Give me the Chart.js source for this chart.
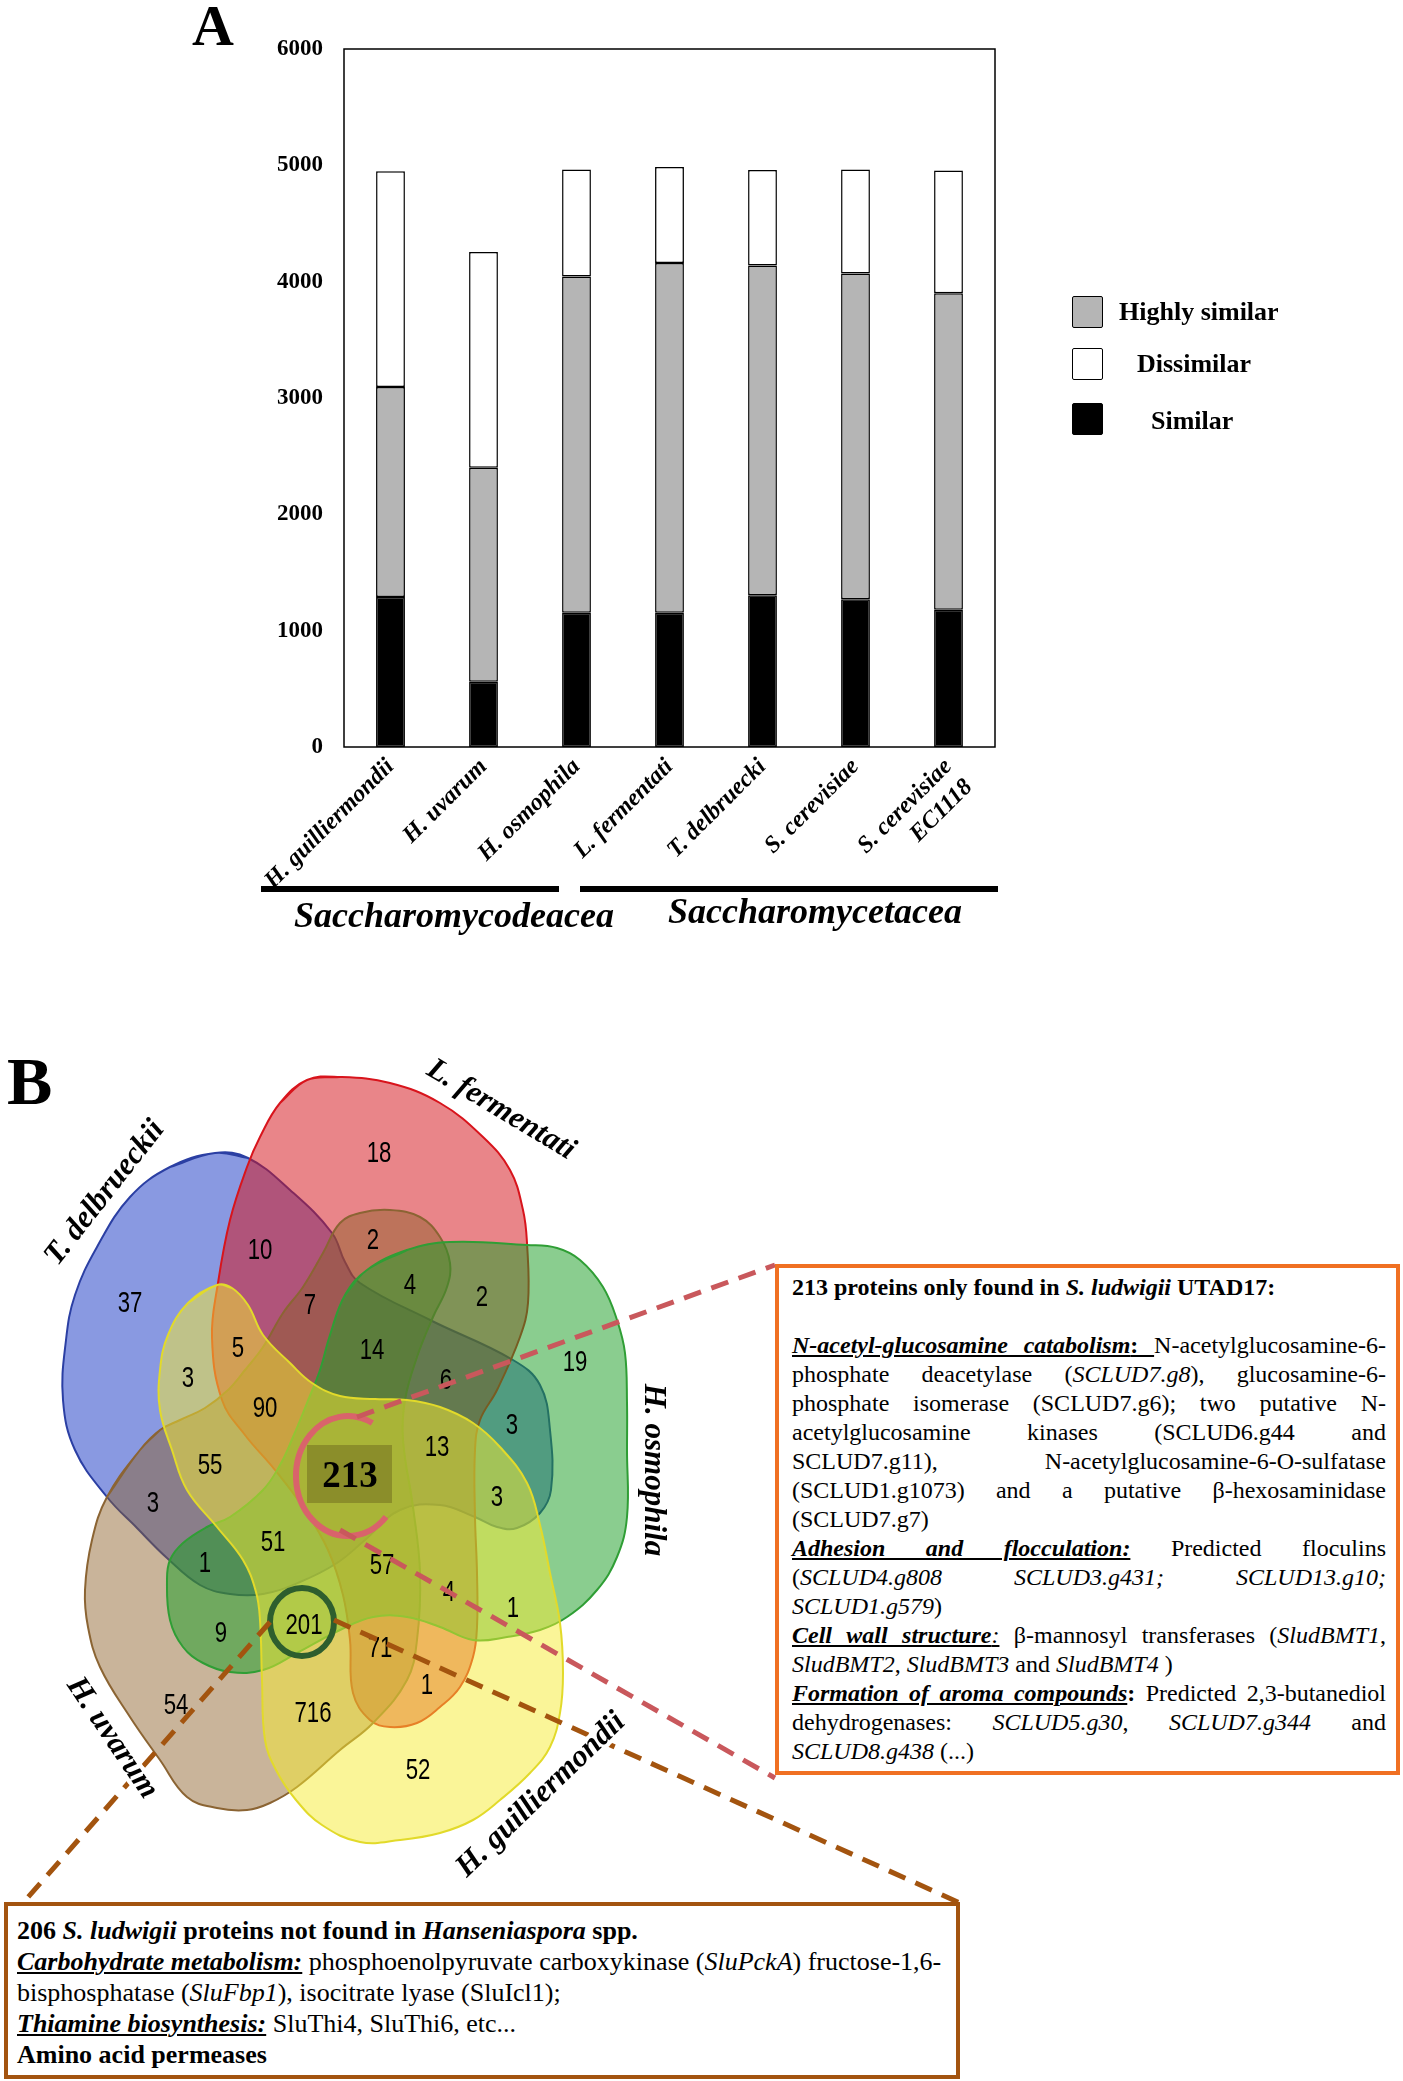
<!DOCTYPE html>
<html>
<head>
<meta charset="utf-8">
<script src="https://cdn.jsdelivr.net/npm/chart.js@4.4.1/dist/chart.umd.min.js"></script>
<style>
  html, body { margin: 0; padding: 0; background: #fff; }
  body { width: 1403px; height: 2081px; position: relative; overflow: hidden;
         font-family: "Liberation Serif", "Times New Roman", serif; color: #000; }
  .abs { position: absolute; }
  .panel { position: absolute; font-weight: bold; line-height: 1; }
  .legbox { position: absolute; left: 1072px; width: 29px; height: 30px; border: 1.5px solid #000; border-radius: 2px; }
  .legtxt { position: absolute; font-weight: bold; font-size: 26px; line-height: 30px; white-space: nowrap; }
  #boxR { left: 775px; top: 1264px; width: 625px; height: 511px; border: 4px solid #f07022; box-sizing: border-box; background: #fff; }
  #txtR { left: 792px; top: 1273px; width: 594px; font-size: 24px; }
  #boxB { left: 4px; top: 1902px; width: 956px; height: 177px; border: 4px solid #a3540f; box-sizing: border-box; background: #fff; }
  #txtB { left: 17px; top: 1915px; width: 935px; font-size: 26px; }
  .ln { height: 29px; line-height: 29px; }
  #txtB .ln { height: 31px; line-height: 31px; white-space: nowrap; }
  .j { text-align: justify; text-align-last: justify; }
  u { text-decoration-thickness: 2px; text-underline-offset: 2px; }
</style>
</head>
<body>

<div class="panel" style="left:192px; top:-3px; font-size:58px;">A</div>
<div class="abs" style="left:0; top:0; width:1403px; height:960px;">
  <canvas id="barChart" width="1403" height="960"></canvas>
</div>

<div class="legbox" style="top:296px; background:#b5b5b5;"></div>
<div class="legbox" style="top:348px; background:#fff;"></div>
<div class="legbox" style="top:403px; background:#000;"></div>
<div class="legtxt" style="left:1119px; top:297px;">Highly similar</div>
<div class="legtxt" style="left:1137px; top:349px;">Dissimilar</div>
<div class="legtxt" style="left:1151px; top:406px;">Similar</div>

<div class="panel" style="left:7px; top:1047px; font-size:68px;">B</div>
<div class="abs" style="left:0; top:1040px; width:980px; height:870px;">
  <canvas id="vennChart" width="980" height="870"></canvas>
</div>

<div id="boxR" class="abs"></div>
<div id="txtR" class="abs">
  <div class="ln"><b>213 proteins only found in <i>S. ludwigii</i> UTAD17:</b></div>
  <div class="ln">&nbsp;</div>
  <div class="ln j"><u><b><i>N-acetyl-glucosamine catabolism</i>: </b></u>N-acetylglucosamine-6-</div>
  <div class="ln j">phosphate deacetylase (<i>SCLUD7.g8</i>), glucosamine-6-</div>
  <div class="ln j">phosphate isomerase (SCLUD7.g6); two putative N-</div>
  <div class="ln j">acetylglucosamine kinases (SCLUD6.g44 and</div>
  <div class="ln j">SCLUD7.g11), N-acetylglucosamine-6-O-sulfatase</div>
  <div class="ln j">(SCLUD1.g1073) and a putative β-hexosaminidase</div>
  <div class="ln">(SCLUD7.g7)</div>
  <div class="ln j"><u><b><i>Adhesion and flocculation:</i></b></u> Predicted floculins</div>
  <div class="ln j">(<i>SCLUD4.g808 SCLUD3.g431; SCLUD13.g10;</i></div>
  <div class="ln"><i>SCLUD1.g579</i>)</div>
  <div class="ln j"><u><b><i>Cell wall structure</i></b><i>:</i></u> β-mannosyl transferases (<i>SludBMT1</i>,</div>
  <div class="ln"><i>SludBMT2</i>, <i>SludBMT3</i> and <i>SludBMT4</i> )</div>
  <div class="ln j"><u><b><i>Formation of aroma compounds</i></b></u><b>:</b> Predicted 2,3-butanediol</div>
  <div class="ln j">dehydrogenases: <i>SCLUD5.g30</i>, <i>SCLUD7.g344</i> and</div>
  <div class="ln"><i>SCLUD8.g438</i> (...)</div>
</div>

<div id="boxB" class="abs"></div>
<div id="txtB" class="abs">
  <div class="ln"><b>206 <i>S. ludwigii</i> proteins not found in <i>Hanseniaspora</i> spp.</b></div>
  <div class="ln"><u><b><i>Carbohydrate metabolism:</i></b></u> phosphoenolpyruvate carboxykinase (<i>SluPckA</i>) fructose-1,6-</div>
  <div class="ln">bisphosphatase (<i>SluFbp1</i>), isocitrate lyase (SluIcl1);</div>
  <div class="ln"><u><b><i>Thiamine biosynthesis:</i></b></u> SluThi4, SluThi6, etc...</div>
  <div class="ln"><b>Amino acid permeases</b></div>
</div>

<script>
// ---- panel A data ----
const species = ["H. guilliermondii", "H. uvarum", "H. osmophila", "L. fermentati",
                 "T. delbruecki", "S. cerevisiae", ["S. cerevisiae", "EC1118"]];
const similar = [1290, 560, 1155, 1155, 1305, 1270, 1180];
const highlySimilar = [1805, 1840, 2890, 3005, 2835, 2800, 2720];
const dissimilar = [1855, 1855, 920, 825, 820, 895, 1055];
const yTicks = [0, 1000, 2000, 3000, 4000, 5000, 6000];
const families = ["Saccharomycodeacea", "Saccharomycetacea"];

// ---- panel B data ----
const setNames = ["T. delbrueckii", "L. fermentati", "H. osmophila", "H. guilliermondii", "H. uvarum"];
const tdelOutline = [[215,1153],[248,1158],[290,1190],[332,1233],[345,1262],[360,1283],[430,1320],[513,1360],
  [540,1385],[550,1430],[551,1490],[540,1513],[517,1528],[497,1527],[475,1517],[440,1505],[400,1510],
  [365,1540],[337,1563],[300,1582],[263,1594],[230,1594],[200,1585],[167,1558],[137,1528],[107,1497],
  [75,1450],[63,1400],[66,1340],[75,1295],[97,1247],[130,1197],[170,1167]];
const lferOutline = [[307,1080],[340,1077],[390,1083],[440,1103],[483,1137],[510,1170],[523,1210],[527,1243],
  [528,1303],[520,1337],[497,1390],[480,1420],[475,1450],[475,1517],[477,1573],[477,1627],[473,1657],
  [460,1687],[440,1707],[417,1723],[390,1727],[370,1720],[353,1693],[350,1640],[343,1595],[328,1550],
  [305,1510],[275,1470],[245,1435],[222,1400],[212,1337],[218,1283],[230,1220],[247,1167],[260,1137],[280,1103]];
const hosmOutline = [[367,1270],[407,1250],[450,1242],[527,1245],[557,1248],[580,1260],[603,1287],[617,1320],
  [625,1353],[627,1403],[627,1450],[627,1517],[617,1557],[597,1590],[567,1617],[540,1630],[507,1637],
  [473,1640],[440,1627],[407,1617],[373,1617],[340,1630],[297,1653],[263,1670],[230,1672],[203,1663],
  [183,1647],[170,1620],[167,1580],[170,1560],[183,1543],[207,1527],[230,1517],[263,1490],[280,1465],
  [293,1437],[307,1403],[320,1370],[330,1335],[345,1295]];
const hguiOutline = [[217,1285],[232,1288],[248,1305],[263,1335],[290,1363],[312,1383],[340,1396],[375,1399],
  [407,1400],[440,1407],[473,1423],[500,1447],[527,1483],[540,1525],[550,1573],[560,1623],[563,1673],
  [560,1713],[550,1747],[530,1773],[500,1800],[473,1820],[440,1833],[400,1840],[360,1842],[322,1825],
  [296,1800],[276,1770],[265,1740],[262,1680],[260,1620],[256,1592],[243,1560],[217,1527],[187,1490],
  [172,1450],[160,1410],[160,1370],[168,1335],[188,1303]];
const huvaOutline = [[140,1450],[107,1497],[92,1540],[85,1590],[88,1627],[100,1667],[130,1717],[160,1760],
  [187,1797],[217,1808],[247,1810],[270,1803],[297,1787],[340,1750],[373,1723],[407,1680],[417,1640],
  [420,1573],[413,1507],[403,1440],[405,1400],[417,1357],[433,1317],[447,1287],[450,1263],[440,1237],
  [420,1217],[390,1210],[360,1213],[340,1223],[323,1253],[303,1287],[283,1313],[263,1347],[245,1370],
  [228,1390],[205,1408],[180,1420],[160,1430]];
const regionCounts = [37, 10, 18, 2, 4, 2, 7, 14, 19, 5, 3, 6, 90, 3, 13, 55, 3, 3, 51, 1, 57, 4, 1, 201, 9, 71, 1, 54, 716, 52];
const regionAnchors = [[130,1303],[260,1250],[379,1153],[373,1240],[410,1285],[482,1297],[310,1305],[372,1350],
  [575,1362],[238,1348],[188,1378],[446,1380],[265,1408],[512,1425],[437,1447],[210,1465],[153,1503],
  [497,1497],[273,1542],[205,1563],[382,1565],[449,1592],[513,1608],[304,1625],[221,1633],[380,1648],
  [427,1685],[176,1705],[313,1713],[418,1770]];
const uniqueCount = 213;
const calloutLines = [
  {from: [357,1417], to: [775,1265], color: "#c9585c"},
  {from: [340,1530], to: [775,1778], color: "#c9585c"},
  {from: [270,1622], to: [22,1904], color: "#a3540f"},
  {from: [334,1620], to: [960,1903], color: "#a3540f"}
];

Chart.defaults.font.family = "'Liberation Serif', 'Times New Roman', serif";
Chart.defaults.color = "#000";

// ---------- Panel A: stacked bars ----------
const frameA = {
  id: "frameA",
  afterDraw(chart) {
    const {ctx, chartArea: a} = chart;
    ctx.save();
    ctx.strokeStyle = "#000";
    ctx.lineWidth = 1.5;
    ctx.strokeRect(a.left, a.top, a.right - a.left, a.bottom - a.top);
    // family brackets under the axis
    ctx.lineWidth = 6;
    ctx.beginPath();
    ctx.moveTo(261, 889); ctx.lineTo(559, 889);
    ctx.moveTo(580, 889); ctx.lineTo(998, 889);
    ctx.stroke();
    ctx.font = "italic bold 36px 'Liberation Serif'";
    ctx.textAlign = "center";
    ctx.textBaseline = "middle";
    ctx.fillStyle = "#000";
    ctx.fillText(families[0], 454, 918);
    ctx.fillText(families[1], 815, 914);
    ctx.restore();
  }
};

const barStyle = {borderColor: "#000", borderWidth: 1.5, borderSkipped: false,
                  barPercentage: 0.31, categoryPercentage: 1.0};

new Chart(document.getElementById("barChart"), {
  type: "bar",
  data: {
    labels: species,
    datasets: [
      {label: "Similar", data: similar, backgroundColor: "#000", ...barStyle},
      {label: "Highly similar", data: highlySimilar, backgroundColor: "#b5b5b5", ...barStyle},
      {label: "Dissimilar", data: dissimilar, backgroundColor: "#fff", ...barStyle}
    ]
  },
  options: {
    responsive: false,
    animation: false,
    events: [],
    layout: {padding: {left: 0, top: 49, right: 408, bottom: 0}},
    plugins: {legend: {display: false}, tooltip: {enabled: false}},
    scales: {
      x: {
        stacked: true,
        grid: {display: false, drawTicks: false},
        border: {display: false},
        ticks: {minRotation: 45, maxRotation: 45, padding: 6,
                font: {size: 24, weight: "bold", style: "italic"}},
        afterFit(s) { s.height = 213; }
      },
      y: {
        stacked: true,
        min: 0, max: 6000,
        afterBuildTicks(s) { s.ticks = yTicks.map(v => ({value: v})); },
        grid: {display: false, drawTicks: false},
        border: {display: false},
        ticks: {padding: 21, font: {size: 23, weight: "bold"}, callback: v => String(v)},
        afterFit(s) { s.width = 344; }
      }
    }
  },
  plugins: [frameA]
});

// ---------- Panel B: five-set Venn ----------
const toPts = arr => arr.map(p => ({x: p[0], y: p[1]}));
const closed = arr => {
  const pts = toPts(arr);
  return [pts[pts.length - 1], ...pts, pts[0], pts[1]];
};
// stacking: blue at the back, yellow in front
const shapeStyles = [
  {fill: "rgba(40,70,200,0.55)",  line: "#2b3fa3", order: 5},
  {fill: "rgba(212,22,28,0.52)",  line: "#d8141c", order: 4},
  {fill: "rgba(30,160,40,0.52)",  line: "#2f9e35", order: 2},
  {fill: "rgba(245,235,50,0.5)",  line: "#e2da2a", order: 1},
  {fill: "rgba(140,95,40,0.47)",  line: "#8b6433", order: 3}
];
const outlines = [tdelOutline, lferOutline, hosmOutline, hguiOutline, huvaOutline];

const vennSets = outlines.map((o, i) => ({
  label: setNames[i],
  data: closed(o),
  fill: "shape",
  backgroundColor: shapeStyles[i].fill,
  borderColor: shapeStyles[i].line,
  borderWidth: 2,
  pointRadius: 0,
  tension: 0.4,
  order: shapeStyles[i].order
}));
const dashSets = calloutLines.map(c => ({
  label: "callout",
  data: [{x: c.from[0], y: c.from[1]}, {x: c.to[0], y: c.to[1]}],
  fill: false,
  borderColor: c.color,
  borderWidth: 5,
  borderDash: [18, 11],
  pointRadius: 0,
  tension: 0,
  order: 0
}));

const vennOverlay = {
  id: "vennOverlay",
  afterDatasetDraw(chart, args) {
    if (chart.data.datasets[args.index].order !== 1) return;
    const {ctx, scales: {x, y}} = chart;
    const px = v => x.getPixelForValue(v), py = v => y.getPixelForValue(v);
    ctx.save();
    // box behind the 213 label
    ctx.fillStyle = "rgba(95,85,25,0.4)";
    ctx.fillRect(px(307), py(1445), px(392) - px(307), py(1503) - py(1445));
    // counts
    ctx.fillStyle = "#000";
    ctx.textAlign = "center";
    ctx.textBaseline = "middle";
    ctx.font = "30px 'Liberation Sans', Arial, sans-serif";
    regionCounts.forEach((n, i) => {
      ctx.save();
      ctx.translate(px(regionAnchors[i][0]), py(regionAnchors[i][1]));
      ctx.scale(0.74, 1);
      ctx.fillText(String(n), 0, 1);
      ctx.restore();
    });
    ctx.font = "bold 37px 'Liberation Serif'";
    ctx.fillText(String(uniqueCount), px(350), py(1477));
    // highlight rings
    ctx.lineWidth = 6;
    ctx.strokeStyle = "#d9636b";
    ctx.beginPath();
    ctx.ellipse(px(348), py(1476), 52, 60, 0, 0.75, 5.2);
    ctx.stroke();
    ctx.strokeStyle = "#2e5e2e";
    ctx.beginPath();
    ctx.ellipse(px(302), py(1622), 32, 34, 0, 0, Math.PI * 2);
    ctx.stroke();
    ctx.restore();
  },
  afterDatasetsDraw(chart) {
    const {ctx, scales: {x, y}} = chart;
    const px = v => x.getPixelForValue(v), py = v => y.getPixelForValue(v);
    const labelPos = [[105,1193,-52], [501,1110,31], [653,1470,90], [541,1795,-44], [112,1738,56]];
    ctx.save();
    ctx.font = "italic bold 31px 'Liberation Serif'";
    ctx.textAlign = "center";
    ctx.textBaseline = "middle";
    setNames.forEach((name, i) => {
      const [lx, ly, ang] = labelPos[i];
      ctx.save();
      ctx.translate(px(lx), py(ly));
      ctx.rotate(ang * Math.PI / 180);
      ctx.lineWidth = 8;
      ctx.strokeStyle = "#fff";
      ctx.strokeText(name, 0, 0);
      ctx.fillStyle = "#000";
      ctx.fillText(name, 0, 0);
      ctx.restore();
    });
    ctx.restore();
  }
};

new Chart(document.getElementById("vennChart"), {
  type: "line",
  data: {datasets: [...vennSets, ...dashSets]},
  options: {
    responsive: false,
    animation: false,
    events: [],
    layout: {padding: 0},
    plugins: {legend: {display: false}, tooltip: {enabled: false}},
    scales: {
      x: {type: "linear", min: 0, max: 980, display: false},
      y: {type: "linear", min: 1040, max: 1910, reverse: true, display: false}
    }
  },
  plugins: [vennOverlay]
});
</script>
</body>
</html>
